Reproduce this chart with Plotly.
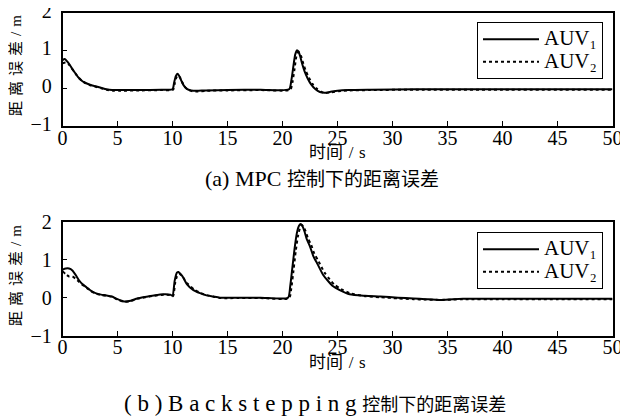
import plotly.graph_objects as go

# ---- (a) MPC ----
t_a1 = [0, 0.2, 0.5, 0.8, 1.1, 1.4, 1.7, 2.0, 2.5, 3.0, 3.5, 4.0, 4.5, 5, 7, 9, 10.0, 10.15, 10.3, 10.45,
        10.6, 10.8, 11.0, 11.3, 11.7, 12.2, 13, 15, 18, 20.6, 20.8, 21.0, 21.15, 21.3, 21.45, 21.6, 21.8,
        22.0, 22.3, 22.6, 23.0, 23.4, 23.8, 24.3, 25, 26, 28, 32, 40, 50]
v_a1 = [0.74, 0.77, 0.68, 0.55, 0.42, 0.30, 0.21, 0.15, 0.09, 0.05, 0.01, -0.03, -0.05, -0.05, -0.05, -0.04,
        -0.03, 0.15, 0.32, 0.38, 0.33, 0.20, 0.08, -0.02, -0.06, -0.07, -0.06, -0.05, -0.04, -0.03, 0.20,
        0.60, 0.88, 1.00, 0.97, 0.85, 0.63, 0.45, 0.25, 0.10, -0.03, -0.10, -0.12, -0.10, -0.07, -0.05,
        -0.04, -0.03, -0.03, -0.03]
t_a2 = [0, 0.3, 0.6, 0.9, 1.2, 1.5, 1.8, 2.1, 2.6, 3.1, 3.6, 4.1, 4.6, 5.2, 7, 9, 10.05, 10.2, 10.35, 10.5,
        10.65, 10.85, 11.05, 11.4, 11.8, 12.3, 13, 15, 18, 20.7, 20.9, 21.1, 21.25, 21.4, 21.55, 21.7, 21.9,
        22.1, 22.4, 22.7, 23.1, 23.5, 23.9, 24.4, 25.1, 26, 28, 32, 40, 50]
v_a2 = [0.66, 0.68, 0.62, 0.50, 0.38, 0.27, 0.19, 0.13, 0.07, 0.03, -0.01, -0.05, -0.07, -0.07, -0.06, -0.05,
        -0.04, 0.12, 0.28, 0.34, 0.30, 0.18, 0.06, -0.04, -0.08, -0.09, -0.07, -0.06, -0.05, -0.04, 0.15,
        0.52, 0.82, 0.95, 0.94, 0.84, 0.64, 0.47, 0.28, 0.12, -0.01, -0.09, -0.13, -0.11, -0.08, -0.06,
        -0.05, -0.04, -0.04, -0.04]

# ---- (b) Backstepping ----
t_b1 = [0, 0.3, 0.6, 0.9, 1.2, 1.5, 1.8, 2.2, 2.6, 3.0, 3.5, 4.0, 4.5, 5.0, 5.6, 6.2, 6.8, 7.5, 8.3, 9.2,
        9.8, 10.0, 10.2, 10.4, 10.55, 10.75, 11.0, 11.3, 11.9, 12.5, 13.1, 13.7, 14.3, 16, 18, 20.5, 20.7,
        20.9, 21.1, 21.3, 21.5, 21.65, 21.8, 22.0, 22.2, 22.5, 22.8, 23.2, 23.7, 24.2, 24.6, 25.2, 26.1,
        27.5, 28.9, 30.5, 31.9, 33, 34.3, 35.5, 36.4, 40, 45, 50]
v_b1 = [0.74, 0.77, 0.77, 0.72, 0.60, 0.46, 0.36, 0.27, 0.18, 0.12, 0.08, 0.06, 0.03, -0.04, -0.10, -0.08,
        -0.02, 0.02, 0.06, 0.09, 0.08, 0.05, 0.45, 0.66, 0.68, 0.62, 0.52, 0.36, 0.20, 0.12, 0.06, 0.03,
        0.00, 0.00, 0.00, 0.00, 0.30, 0.80, 1.30, 1.70, 1.90, 1.95, 1.90, 1.75, 1.55, 1.35, 1.10, 0.88,
        0.60, 0.42, 0.30, 0.20, 0.09, 0.05, 0.03, 0.00, -0.02, -0.04, -0.06, -0.04, -0.03, -0.03, -0.03,
        -0.03]
t_b2 = [0, 0.3, 0.6, 0.9, 1.2, 1.5, 1.8, 2.2, 2.6, 3.0, 3.5, 4.0, 4.5, 5.0, 5.6, 6.2, 6.8, 7.5, 8.3, 9.2,
        9.8, 10.05, 10.25, 10.45, 10.6, 10.8, 11.05, 11.4, 12.0, 12.6, 13.2, 13.8, 14.4, 16, 18, 20.6, 20.8,
        21.0, 21.2, 21.4, 21.6, 21.75, 21.9, 22.1, 22.3, 22.6, 22.9, 23.3, 23.8, 24.3, 24.7, 25.3, 26.2,
        27.5, 28.9, 30.5, 31.9, 33, 34.3, 35.5, 36.4, 40, 45, 50]
v_b2 = [0.70, 0.62, 0.56, 0.56, 0.50, 0.42, 0.34, 0.26, 0.17, 0.11, 0.07, 0.05, 0.02, -0.05, -0.11, -0.09,
        -0.03, 0.01, 0.05, 0.08, 0.07, 0.04, 0.40, 0.60, 0.63, 0.59, 0.50, 0.36, 0.21, 0.12, 0.06, 0.02,
        -0.01, -0.01, -0.01, -0.01, 0.25, 0.72, 1.22, 1.62, 1.85, 1.92, 1.88, 1.76, 1.58, 1.40, 1.16, 0.95,
        0.67, 0.48, 0.35, 0.23, 0.11, 0.04, 0.01, -0.02, -0.04, -0.05, -0.06, -0.05, -0.04, -0.04, -0.04,
        -0.04]

x_ticks = [0, 5, 10, 15, 20, 25, 30, 35, 40, 45, 50]
y_ticks = [-1, 0, 1, 2]
names = ["AUV\u2081", "AUV\u2082"]

SERIF = "Liberation Serif, Times New Roman, DejaVu Serif, Noto Sans CJK SC, serif"
CJK = "Liberation Serif, Noto Sans CJK SC, serif"


def legname(n):
    return "<span style='font-size:21px'>" + n + "</span>"


fig = go.Figure()
fig.add_trace(go.Scatter(x=t_a1, y=v_a1, mode="lines", name=legname(names[0]),
                         line=dict(color="black", width=2, shape="spline", smoothing=0.6),
                         xaxis="x", yaxis="y", legend="legend"))
fig.add_trace(go.Scatter(x=t_a2, y=v_a2, mode="lines", name=legname(names[1]),
                         line=dict(color="black", width=2, dash="dot", shape="spline", smoothing=0.6),
                         xaxis="x", yaxis="y", legend="legend"))
fig.add_trace(go.Scatter(x=t_b1, y=v_b1, mode="lines", name=legname(names[0]),
                         line=dict(color="black", width=2, shape="spline", smoothing=0.6),
                         xaxis="x2", yaxis="y2", legend="legend2"))
fig.add_trace(go.Scatter(x=t_b2, y=v_b2, mode="lines", name=legname(names[1]),
                         line=dict(color="black", width=2, dash="dot", shape="spline", smoothing=0.6),
                         xaxis="x2", yaxis="y2", legend="legend2"))

# The page has an 8px body margin; figure is sized so that it fills the 628x420 window.
OFF = 8
W, H = 628 - OFF, 420 - OFF


def px(x):
    return (x - OFF) / W


def py(y):
    return 1 - (y - OFF) / H


xd = [px(62.5), px(612.5)]
yd_a = [py(126), py(12.5)]
yd_b = [py(335.5), py(222)]

axis_common = dict(showline=True, linecolor="black", linewidth=1.5, mirror=True, ticks="inside",
                   ticklen=5, tickwidth=1.2, tickcolor="black", showgrid=False, zeroline=False,
                   ticklabeloverflow="allow",
                   tickfont=dict(family=SERIF, size=20, color="black"))
x_extra = dict(ticklabelstandoff=-7)
y_extra = dict(ticklabelstandoff=5)
ytext = [("\u22121" if v < 0 else str(v)) for v in y_ticks]

leg_common = dict(xanchor="right", yanchor="top", bgcolor="white", bordercolor="black", borderwidth=1,
                  font=dict(family=SERIF, size=15, color="black"), tracegroupgap=0, itemwidth=56)

fig.update_layout(
    width=W, height=H, margin=dict(l=0, r=0, t=0, b=0, autoexpand=False),
    paper_bgcolor="white", plot_bgcolor="white",
    xaxis=dict(domain=xd, anchor="y", range=[0, 50], tickvals=x_ticks, **axis_common, **x_extra),
    yaxis=dict(domain=yd_a, anchor="x", range=[-1, 2], tickvals=y_ticks, ticktext=ytext,
               ticklabelshift=-2, **axis_common, **y_extra),
    xaxis2=dict(domain=xd, anchor="y2", range=[0, 50], tickvals=x_ticks, **axis_common, **x_extra),
    yaxis2=dict(domain=yd_b, anchor="x2", range=[-1, 2], tickvals=y_ticks, ticktext=ytext,
                **axis_common, **y_extra),
    legend=dict(x=px(603), y=py(22), **leg_common),
    legend2=dict(x=px(603), y=py(232), **leg_common),
    showlegend=True,
)

sp = "\u2008"
ylab = "\u2004".join(["距", "离", "误", "差", "/", "m"])
cap_a = "(a) MPC <span style='font-size:19px'>控制下的距离误差</span>"
cap_b = (sp.join(list("(b)")) + " " + sp.join(list("Backstepping"))
         + " <span style='font-size:18px'>控制下的距离误差</span>")

ann = []
for yc, xt_y, cap_x, cap_y, cap, cap_fs in [(66, 153, 322, 178, cap_a, 22), (276, 362, 315, 403, cap_b, 23)]:
    ann.append(dict(text=ylab, x=px(16), y=py(yc), xref="paper", yref="paper",
                    textangle=-90, showarrow=False, xanchor="center", yanchor="middle",
                    font=dict(family=CJK, size=15, color="black")))
    ann.append(dict(text="时间\u2004/\u2004s", x=px(337), y=py(xt_y), xref="paper", yref="paper",
                    showarrow=False, xanchor="center", yanchor="middle",
                    font=dict(family=CJK, size=17, color="black")))
    ann.append(dict(text=cap, x=px(cap_x), y=py(cap_y), xref="paper", yref="paper",
                    showarrow=False, xanchor="center", yanchor="middle",
                    font=dict(family=CJK, size=cap_fs, color="black")))
fig.update_layout(annotations=ann)

fig.write_html("out.html")
